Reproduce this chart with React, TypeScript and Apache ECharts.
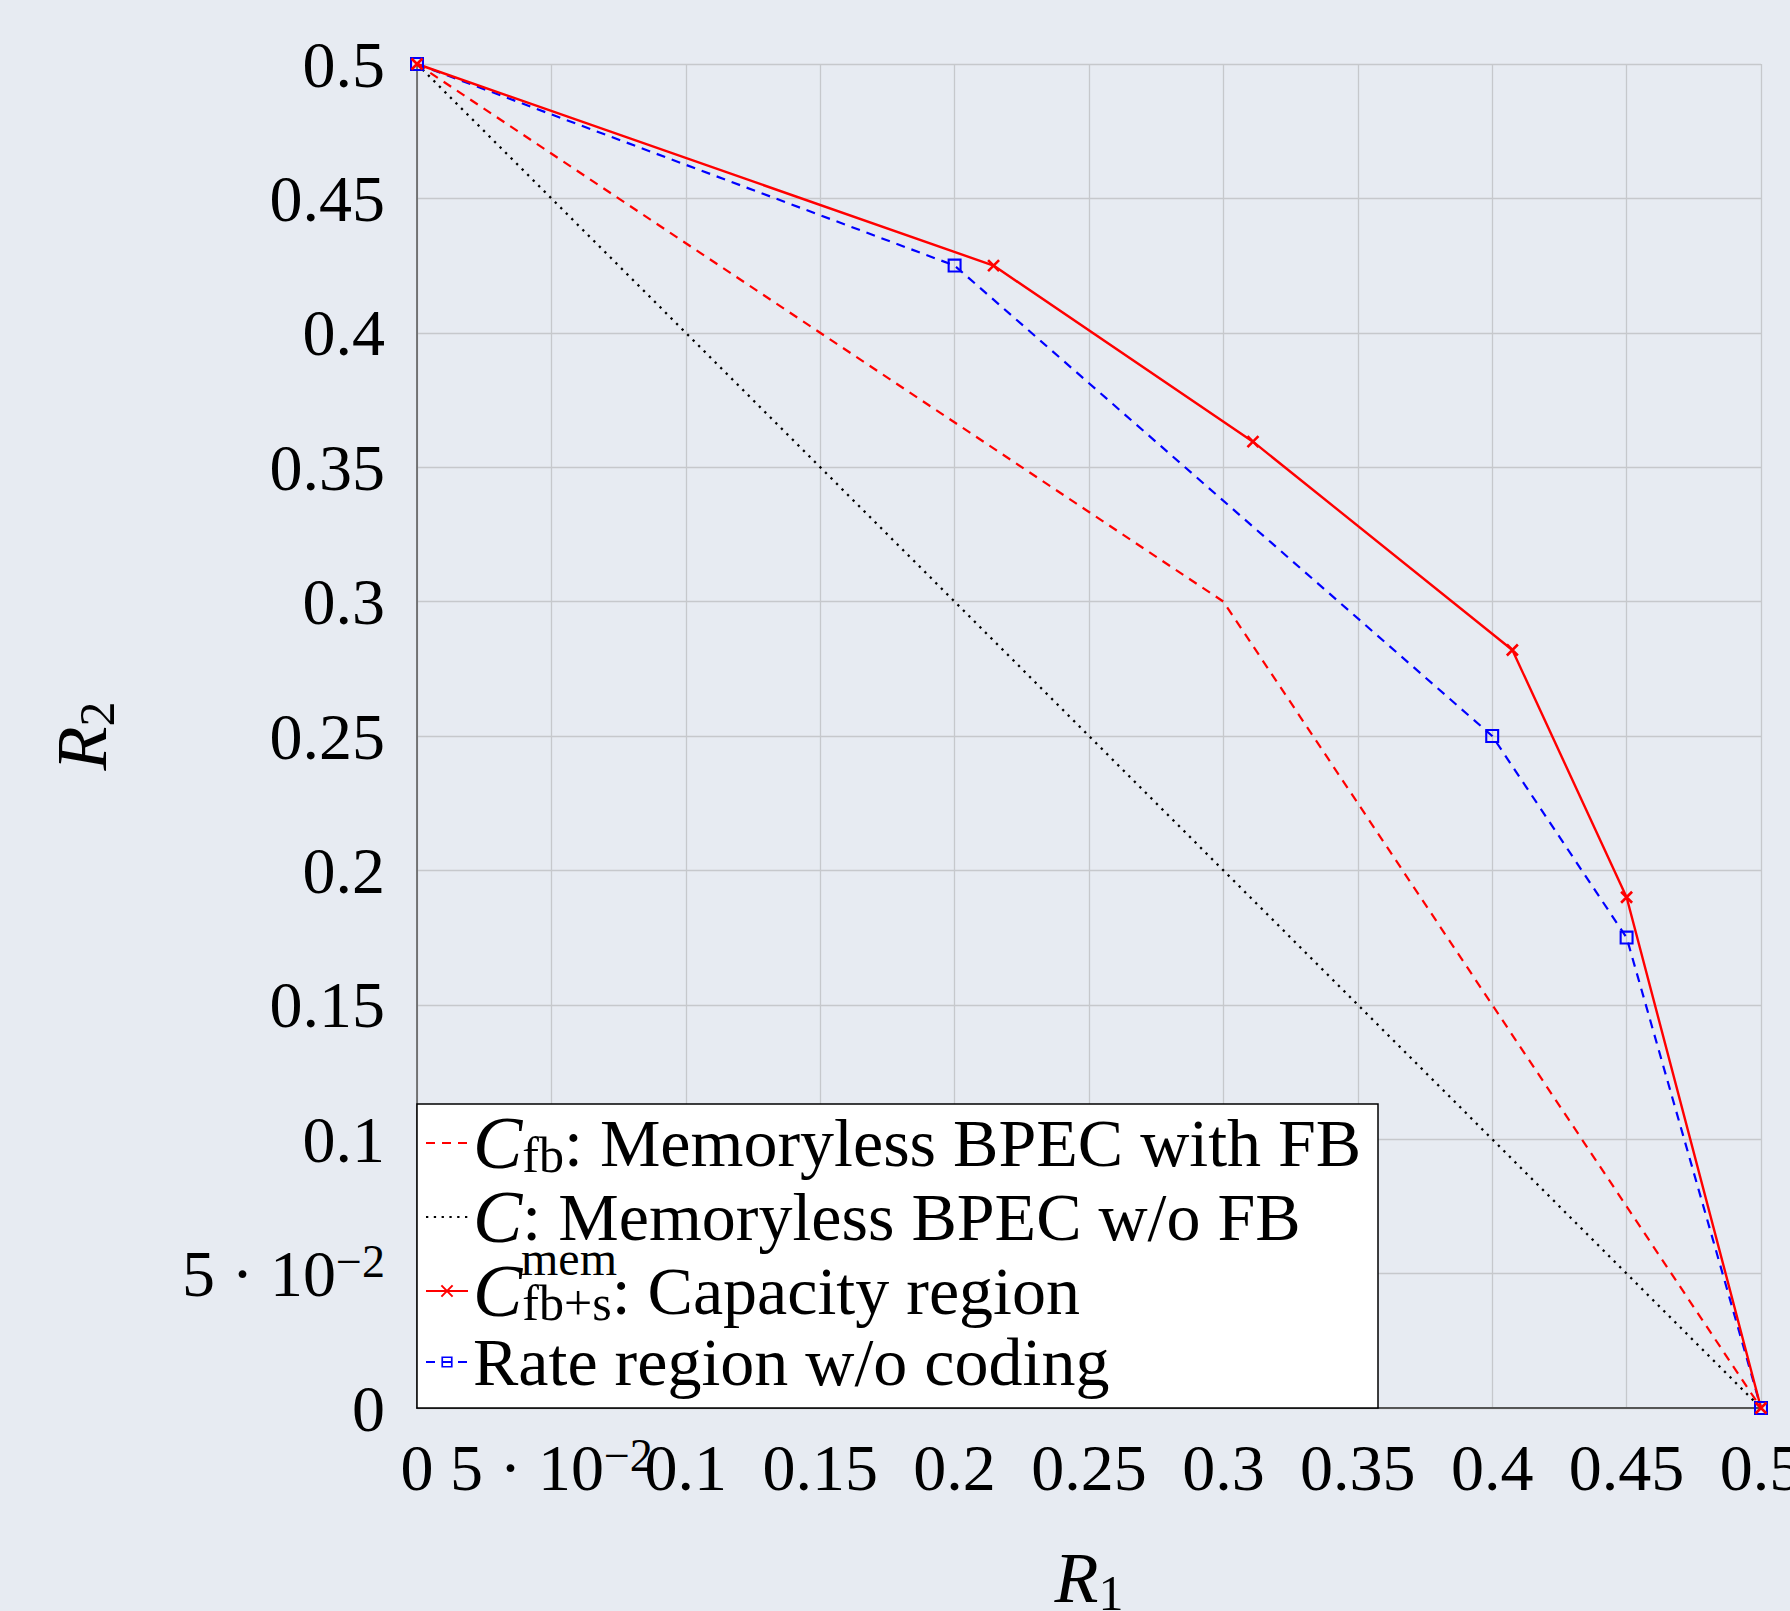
import React, { useEffect, useRef } from 'react';
import * as echarts from 'echarts';

const FONT = '"Liberation Serif", "DejaVu Serif", serif';

// Data
const xFb = [0, 0.3, 0.5];
const yFb = [0.5, 0.3, 0];
const xC = [0, 0.5];
const yC = [0.5, 0];
const xCap = [0, 0.2145, 0.311, 0.4075, 0.45, 0.5];
const yCap = [0.5, 0.425, 0.3595, 0.282, 0.19, 0];
const xRate = [0, 0.2, 0.4, 0.45, 0.5];
const yRate = [0.5, 0.425, 0.25, 0.175, 0];

const tickLabels = ['0', '5e-2', '0.1', '0.15', '0.2', '0.25', '0.3', '0.35', '0.4', '0.45', '0.5'];
const seriesNames = ['Cfb', 'C', 'Cmem', 'Rate'];

const zip = (xs: number[], ys: number[]) => xs.map((x, i) => [x, ys[i]]);

const tickFmt = (v: number) => {
  const lab = tickLabels[Math.round(v / 0.05)] ?? String(v);
  if (lab === '5e-2') return '{n|5 · 10}{sp|−2}';
  return '{n|' + lab + '}';
};

const tickRich = {
  n: { fontSize: 66, fontFamily: FONT, color: '#000', lineHeight: 70 },
  sp: { fontSize: 46, fontFamily: FONT, color: '#000', lineHeight: 46, verticalAlign: 'top' },
};

const nameRich = {
  r: { fontSize: 72, fontStyle: 'italic', fontFamily: FONT, color: '#000', lineHeight: 80 },
  s: { fontSize: 50, fontFamily: FONT, color: '#000', lineHeight: 50, verticalAlign: 'bottom' },
};

const legendText: Record<string, string> = {
  Cfb: '{c|C}{sb|fb}{t|: Memoryless BPEC with FB}',
  C: '{c|C}{t|: Memoryless BPEC w/o FB}',
  Cmem: '{c|C}{sb3|fb+s}{t|: Capacity region}',
  Rate: '{t|Rate region w/o coding}',
};

const GRID = { left: 417, top: 64, width: 1344, height: 1344 };

const crossPath = 'path://M0,0L10,10M10,0L0,10';
const squarePath = 'path://M0,0H12V12H0Z M1.8,1.8V10.2H10.2V1.8Z';

const option: any = {
  animation: false,
  backgroundColor: '#e7ebf2',
  grid: { ...GRID, containLabel: false, outerBoundsMode: 'none' },
  xAxis: {
    type: 'value',
    min: 0,
    max: 0.5,
    interval: 0.05,
    name: '{r|R}{s|1}',
    nameLocation: 'middle',
    nameGap: 130,
    nameTextStyle: { rich: nameRich },
    axisLine: { show: true, onZero: false, lineStyle: { color: '#555', width: 2 } },
    axisTick: { show: false },
    axisLabel: { margin: 24, formatter: tickFmt, rich: tickRich },
    splitLine: { show: true, lineStyle: { color: '#c6c8cc', width: 1.3 } },
  },
  yAxis: {
    type: 'value',
    min: 0,
    max: 0.5,
    interval: 0.05,
    name: '{r|R}{s|2}',
    nameLocation: 'middle',
    nameRotate: 90,
    nameGap: 295,
    nameTextStyle: { rich: nameRich },
    axisLine: { show: true, onZero: false, lineStyle: { color: '#555', width: 1.5 } },
    axisTick: { show: false },
    axisLabel: { margin: 32, formatter: tickFmt, rich: tickRich },
    splitLine: { show: true, lineStyle: { color: '#c6c8cc', width: 1.3 } },
  },
  legend: {
    orient: 'vertical',
    left: 417,
    top: 1104,
    padding: [2, 0, 2, 8],
    itemGap: 0,
    itemWidth: 42,
    itemHeight: 14,
    data: [
      { name: 'Cfb', itemStyle: { opacity: 0 } },
      { name: 'C', itemStyle: { opacity: 0 } },
      { name: 'Cmem' },
      { name: 'Rate' },
    ],
    formatter: (name: string) => legendText[name],
    textStyle: {
      color: '#000',
      fontFamily: FONT,
      rich: {
        c: { fontSize: 74, fontStyle: 'italic', fontFamily: FONT, color: '#000', lineHeight: 74 },
        sb: { fontSize: 50, fontFamily: FONT, color: '#000', lineHeight: 24, verticalAlign: 'bottom' },
        sb3: { fontSize: 50, fontFamily: FONT, color: '#000', lineHeight: 10, verticalAlign: 'bottom' },
        t: { fontSize: 68, fontFamily: FONT, color: '#000', lineHeight: 74 },
      },
    },
  },
  graphic: [
    {
      type: 'rect',
      z: 3,
      shape: { x: 417, y: 1104, width: 961, height: 304 },
      style: { fill: '#ffffff', stroke: '#000', lineWidth: 1.5 },
    },
    {
      type: 'text',
      z: 6,
      x: 521,
      y: 1258,
      style: { text: 'mem', fontSize: 48, fontFamily: FONT, fill: '#000', verticalAlign: 'middle' },
    },
  ],
  series: [
    {
      name: seriesNames[0],
      type: 'line',
      data: zip(xFb, yFb),
      symbol: 'none',
      lineStyle: { color: '#ff0000', width: 2.2, type: [9, 7] },
      itemStyle: { color: '#ff0000' },
    },
    {
      name: seriesNames[1],
      type: 'line',
      data: zip(xC, yC),
      symbol: 'none',
      lineStyle: { color: '#000', width: 2.3, type: [2.3, 5.5] },
      itemStyle: { color: '#000' },
    },
    {
      name: seriesNames[3],
      type: 'line',
      data: zip(xRate, yRate),
      symbol: squarePath,
      symbolSize: 14,
      lineStyle: { color: '#0000ff', width: 2.2, type: [9, 7] },
      itemStyle: { color: '#0000ff' },
    },
    {
      name: seriesNames[2],
      type: 'line',
      data: zip(xCap, yCap),
      symbol: crossPath,
      symbolSize: 11,
      lineStyle: { color: '#ff0000', width: 2.4, type: 'solid' },
      itemStyle: { color: '#ff0000', borderColor: '#ff0000', borderWidth: 2.6 },
    },
  ],
};

export default function App() {
  const ref = useRef<HTMLDivElement>(null);
  useEffect(() => {
    const chart = echarts.init(ref.current!, null, { renderer: 'svg' });
    chart.setOption(option);
    return () => chart.dispose();
  }, []);
  return (
    <div
      ref={ref}
      style={{ position: 'fixed', left: 0, top: 0, width: 1790, height: 1611 }}
    />
  );
}
